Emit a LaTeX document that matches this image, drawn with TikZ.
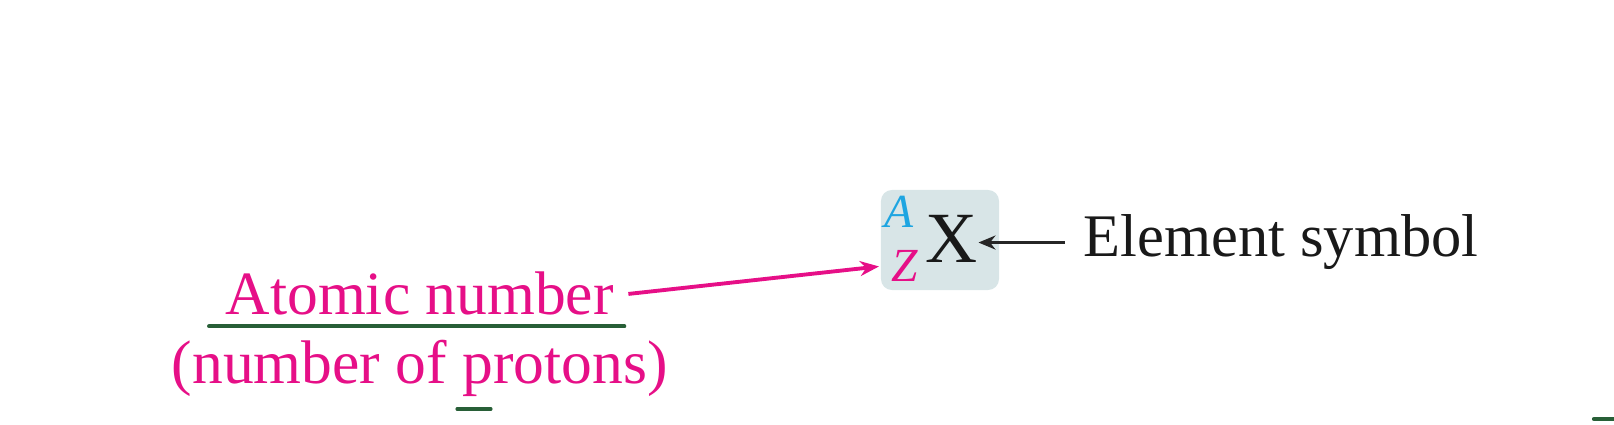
\documentclass[tikz,border=0pt]{standalone}
\usepackage{fontspec}
\setmainfont{Liberation Serif}
\usepackage{tikz}
\usetikzlibrary{arrows.meta}
\definecolor{atompink}{RGB}{230,15,135}
\definecolor{masscyan}{RGB}{30,165,225}
\definecolor{symgray}{RGB}{216,229,231}
\definecolor{pengreen}{RGB}{40,95,55}
\tikzstyle{label}=[anchor=base west, inner sep=0pt, font=\fontsize{17.5}{21}\selectfont]
\tikzstyle{symbox}=[rounded corners=0.11cm, fill=symgray, minimum width=1.18cm, minimum height=1.0cm, inner sep=0pt]
\tikzstyle{sym}=[anchor=base west, inner sep=0pt, font=\fontsize{20.5}{24}\selectfont]
\tikzstyle{idx}=[anchor=base west, inner sep=0pt, font=\fontsize{13.5}{16}\selectfont\itshape]
\tikzstyle{pinkarrow}=[-{Stealth[length=0.19cm, width=0.15cm]}, line width=1.1pt, draw=atompink]
\tikzstyle{blackarrow}=[-{Stealth[length=0.17cm, width=0.14cm]}, line width=0.85pt, draw=black!85]
\tikzstyle{pen}=[line width=1.1pt, draw=pengreen, line cap=round]

\begin{document}
\begin{tikzpicture}[x=0.01cm, y=-0.01cm]
				\useasboundingbox (0,0) rectangle (1614,425);
				
				%The symbol
				\draw (940,240) node[symbox] (box) {};
				\draw (925,263) node[sym, text=black!90] (X) {X};
				\draw (884,228) node[idx, text=masscyan] (A) {A};
				\draw (891,282) node[idx, text=atompink] (Z) {Z};
				
				%The labels
				\draw (1083,257) node[label, text=black!90, font=\fontsize{17.2}{20}\selectfont] (elem) {Element symbol};
				\draw (225,315) node[label, text=atompink] (atomic) {Atomic number};
				\draw ([yshift=-0.68cm]atomic.base) node[label, anchor=base, text=atompink] (protons) {(number of protons)};
				
				\draw[pinkarrow] ([xshift=0.14cm]atomic.east) -- ([xshift=-0.12cm]Z.west);
				\draw[blackarrow] ([xshift=-0.18cm]elem.west) -- (elem.west -| X.east);
				
				%Pen marks
				\draw[pen] ([xshift=-0.16cm, yshift=-0.10cm]atomic.south west) -- ([xshift=0.10cm, yshift=-0.10cm]atomic.south east);
				\draw[pen, line width=0.9pt] (457,409) -- (491,409);
				\draw[pen, line width=1.2pt] (1594,419) -- (1614,419);
			\end{tikzpicture}
\end{document}
